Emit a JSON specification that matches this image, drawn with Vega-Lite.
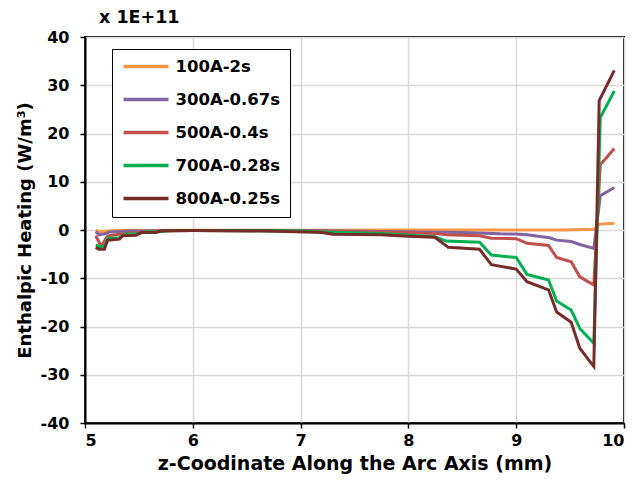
{
  "$schema": "https://vega.github.io/schema/vega-lite/v6.json",
  "width": 539,
  "height": 386,
  "autosize": {"type": "none"},
  "padding": {"left": 85, "top": 37, "right": 12, "bottom": 67},
  "background": "white",
  "title": {"text": "x 1E+11", "anchor": "start", "frame": "group", "dx": 14, "offset": 3, "fontSize": 17.5, "font": "DejaVu Sans", "fontWeight": "bold", "color": "black"},
  "config": {
    "view": {"stroke": "black", "strokeWidth": 2},
    "font": "DejaVu Sans",
    "axis": {
      "labelFont": "DejaVu Sans", "labelFontWeight": "bold", "labelFontSize": 16, "labelColor": "black",
      "titleFont": "DejaVu Sans", "titleFontWeight": "bold", "titleColor": "black",
      "domainColor": "black", "domainWidth": 2, "tickColor": "black", "tickWidth": 1.5, "tickSize": 5,
      "gridColor": "#d9d9d9", "gridWidth": 1.5
    },
    "legend": {
      "labelFont": "DejaVu Sans", "labelFontWeight": "bold", "labelFontSize": 16.5, "labelColor": "black"
    }
  },
  "data": {"values": [
    {"s":"100A-2s","x":5.1,"y":-0.1},{"s":"100A-2s","x":5.15,"y":-0.4},{"s":"100A-2s","x":5.2,"y":-0.2},{"s":"100A-2s","x":5.3,"y":-0.1},{"s":"100A-2s","x":6.0,"y":-0.05},{"s":"100A-2s","x":7.0,"y":-0.05},{"s":"100A-2s","x":8.0,"y":0},{"s":"100A-2s","x":9.0,"y":0},{"s":"100A-2s","x":9.45,"y":0},{"s":"100A-2s","x":9.72,"y":0.15},{"s":"100A-2s","x":9.77,"y":1.2},{"s":"100A-2s","x":9.91,"y":1.4},
    {"s":"300A-0.67s","x":5.1,"y":-0.3},{"s":"300A-0.67s","x":5.13,"y":-1.0},{"s":"300A-0.67s","x":5.18,"y":-0.8},{"s":"300A-0.67s","x":5.23,"y":-0.4},{"s":"300A-0.67s","x":5.4,"y":-0.2},{"s":"300A-0.67s","x":6.0,"y":-0.1},{"s":"300A-0.67s","x":7.0,"y":-0.1},{"s":"300A-0.67s","x":7.74,"y":-0.3},{"s":"300A-0.67s","x":8.5,"y":-0.5},{"s":"300A-0.67s","x":8.85,"y":-0.8},{"s":"300A-0.67s","x":9.0,"y":-0.85},{"s":"300A-0.67s","x":9.1,"y":-1.0},{"s":"300A-0.67s","x":9.31,"y":-1.6},{"s":"300A-0.67s","x":9.375,"y":-2.1},{"s":"300A-0.67s","x":9.51,"y":-2.4},{"s":"300A-0.67s","x":9.59,"y":-3.0},{"s":"300A-0.67s","x":9.72,"y":-3.8},{"s":"300A-0.67s","x":9.78,"y":7.1},{"s":"300A-0.67s","x":9.91,"y":8.8},
    {"s":"500A-0.4s","x":5.1,"y":-1.2},{"s":"500A-0.4s","x":5.15,"y":-3.4},{"s":"500A-0.4s","x":5.21,"y":-1.2},{"s":"500A-0.4s","x":5.35,"y":-0.8},{"s":"500A-0.4s","x":5.5,"y":-0.5},{"s":"500A-0.4s","x":5.7,"y":-0.2},{"s":"500A-0.4s","x":6.0,"y":-0.1},{"s":"500A-0.4s","x":7.0,"y":-0.2},{"s":"500A-0.4s","x":7.74,"y":-0.4},{"s":"500A-0.4s","x":8.25,"y":-0.7},{"s":"500A-0.4s","x":8.35,"y":-1.0},{"s":"500A-0.4s","x":8.66,"y":-1.2},{"s":"500A-0.4s","x":8.77,"y":-1.7},{"s":"500A-0.4s","x":9.0,"y":-1.8},{"s":"500A-0.4s","x":9.1,"y":-2.75},{"s":"500A-0.4s","x":9.3,"y":-3.2},{"s":"500A-0.4s","x":9.375,"y":-5.7},{"s":"500A-0.4s","x":9.51,"y":-6.6},{"s":"500A-0.4s","x":9.59,"y":-9.7},{"s":"500A-0.4s","x":9.72,"y":-11.4},{"s":"500A-0.4s","x":9.78,"y":13.5},{"s":"500A-0.4s","x":9.91,"y":16.9},
    {"s":"700A-0.28s","x":5.1,"y":-3.1},{"s":"700A-0.28s","x":5.13,"y":-3.4},{"s":"700A-0.28s","x":5.18,"y":-3.4},{"s":"700A-0.28s","x":5.21,"y":-1.7},{"s":"700A-0.28s","x":5.32,"y":-1.6},{"s":"700A-0.28s","x":5.37,"y":-0.9},{"s":"700A-0.28s","x":5.5,"y":-0.8},{"s":"700A-0.28s","x":5.55,"y":-0.4},{"s":"700A-0.28s","x":5.7,"y":-0.3},{"s":"700A-0.28s","x":5.8,"y":-0.1},{"s":"700A-0.28s","x":6.0,"y":-0.1},{"s":"700A-0.28s","x":7.0,"y":-0.2},{"s":"700A-0.28s","x":7.2,"y":-0.4},{"s":"700A-0.28s","x":7.74,"y":-0.7},{"s":"700A-0.28s","x":8.245,"y":-1.4},{"s":"700A-0.28s","x":8.35,"y":-2.3},{"s":"700A-0.28s","x":8.66,"y":-2.55},{"s":"700A-0.28s","x":8.77,"y":-5.2},{"s":"700A-0.28s","x":9.0,"y":-5.7},{"s":"700A-0.28s","x":9.1,"y":-9.2},{"s":"700A-0.28s","x":9.3,"y":-10.35},{"s":"700A-0.28s","x":9.375,"y":-14.7},{"s":"700A-0.28s","x":9.51,"y":-16.6},{"s":"700A-0.28s","x":9.59,"y":-20.4},{"s":"700A-0.28s","x":9.72,"y":-23.5},{"s":"700A-0.28s","x":9.78,"y":23.3},{"s":"700A-0.28s","x":9.91,"y":28.8},
    {"s":"800A-0.25s","x":5.1,"y":-3.6},{"s":"800A-0.25s","x":5.13,"y":-4.0},{"s":"800A-0.25s","x":5.18,"y":-4.0},{"s":"800A-0.25s","x":5.21,"y":-2.1},{"s":"800A-0.25s","x":5.32,"y":-1.9},{"s":"800A-0.25s","x":5.35,"y":-1.2},{"s":"800A-0.25s","x":5.475,"y":-1.1},{"s":"800A-0.25s","x":5.52,"y":-0.5},{"s":"800A-0.25s","x":5.66,"y":-0.5},{"s":"800A-0.25s","x":5.71,"y":-0.15},{"s":"800A-0.25s","x":6.0,"y":-0.1},{"s":"800A-0.25s","x":6.7,"y":-0.2},{"s":"800A-0.25s","x":7.2,"y":-0.5},{"s":"800A-0.25s","x":7.3,"y":-0.9},{"s":"800A-0.25s","x":7.74,"y":-1.0},{"s":"800A-0.25s","x":8.0,"y":-1.3},{"s":"800A-0.25s","x":8.245,"y":-1.5},{"s":"800A-0.25s","x":8.37,"y":-3.6},{"s":"800A-0.25s","x":8.66,"y":-4.0},{"s":"800A-0.25s","x":8.77,"y":-7.2},{"s":"800A-0.25s","x":9.0,"y":-8.1},{"s":"800A-0.25s","x":9.1,"y":-10.7},{"s":"800A-0.25s","x":9.3,"y":-12.4},{"s":"800A-0.25s","x":9.375,"y":-17.0},{"s":"800A-0.25s","x":9.51,"y":-19.1},{"s":"800A-0.25s","x":9.59,"y":-24.5},{"s":"800A-0.25s","x":9.72,"y":-28.3},{"s":"800A-0.25s","x":9.77,"y":26.8},{"s":"800A-0.25s","x":9.91,"y":33.1}
  ]},
  "mark": {"type": "line", "strokeWidth": 3},
  "encoding": {
    "x": {"field": "x", "type": "quantitative",
      "scale": {"domain": [5, 10], "nice": false},
      "axis": {"values": [5, 6, 7, 8, 9, 10], "title": "z-Coodinate Along the Arc Axis (mm)", "titleFontSize": 19, "labelPadding": 4, "titlePadding": 6}},
    "y": {"field": "y", "type": "quantitative",
      "scale": {"domain": [-40, 40], "nice": false},
      "axis": {"values": [-40, -30, -20, -10, 0, 10, 20, 30, 40], "labelExpr": "'' + datum.value", "title": "Enthalpic Heating (W/m³)", "titleFontSize": 18, "labelPadding": 11, "titlePadding": 6}},
    "color": {"field": "s", "type": "nominal",
      "scale": {"domain": ["100A-2s", "300A-0.67s", "500A-0.4s", "700A-0.28s", "800A-0.25s"],
                "range": ["#f79646", "#8064a2", "#c0504d", "#00b050", "#772c2a"]},
      "legend": {"title": null, "orient": "none", "legendX": 27, "legendY": 12,
        "strokeColor": "black", "padding": 9.5, "fillColor": "white",
        "symbolType": "stroke", "symbolSize": 2025, "symbolStrokeWidth": 3.5,
        "labelOffset": 5, "clipHeight": 16, "rowPadding": 16}}
  }
}
